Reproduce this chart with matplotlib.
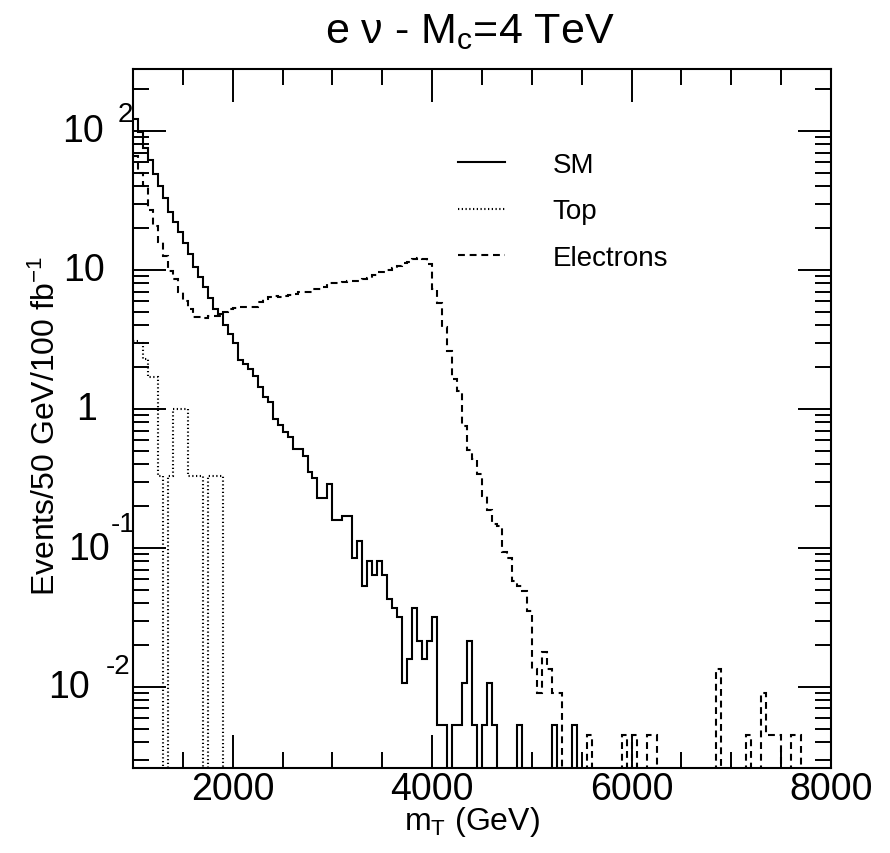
import numpy as np
import matplotlib
matplotlib.use("Agg")
import matplotlib.pyplot as plt
from matplotlib.lines import Line2D
from matplotlib.ticker import MultipleLocator, FixedLocator, LogLocator, NullFormatter

plt.rcParams['font.family'] = ['Liberation Sans', 'DejaVu Sans']
plt.rcParams['mathtext.default'] = 'regular'

# ---------------- data ----------------
bin_edges = np.arange(1000, 8001, 50)   # 140 bins of 50 GeV

sm_values = [
    122, 99, 76, 62, 49, 40, 33, 26, 22, 18.7, 15.6, 13, 10.5, 8.9, 7.5, 6.3, 5.2, 4.8,
    4.0, 3.45, 3.0, 2.26, 2.1, 1.94, 1.72, 1.43, 1.21, 1.12, 0.85, 0.77, 0.68, 0.625,
    0.515, 0.515, 0.46, 0.35, 0.317, 0.23, 0.23, 0.29,
    0.16, 0.16, 0.171, 0.171, 0.084, 0.113, 0.053, 0.080, 0.064, 0.080, 0.064, 0.043,
    0.037, 0.032, 0.0107, 0.016, 0.037, 0.0214, 0.016, 0.0214,
    0.032, 0.0053, 0.0053, 0, 0.0053, 0.0053, 0.0107, 0.0214, 0.0053, 0,
    0.0053, 0.0107, 0.0053, 0, 0, 0, 0, 0.0053, 0, 0,
    0, 0, 0, 0, 0.0053, 0, 0, 0, 0.0053, 0,
    0, 0, 0, 0, 0, 0, 0, 0, 0, 0,
] + [0] * 40

top_values = [
    3.1, 3.0, 2.3, 1.7, 1.7, 0.33, 0, 0.33, 1.0, 1.0, 1.0, 0.33, 0.33, 0.33, 0, 0.33, 0.33, 0.33, 0, 0,
] + [0] * 120

ele_values = [
    66, 50, 40, 27, 20.8, 15.8, 12.7, 9.9, 8.6, 6.9, 6.0, 5.2, 4.57, 4.57, 4.5, 4.63, 4.63, 4.7, 4.96, 5.24,
    5.3, 5.4, 5.4, 5.45, 5.45, 5.85, 6.15, 6.35, 6.5, 6.35, 6.5, 6.6, 6.7, 6.9, 6.9, 6.9, 7.3, 7.35, 7.5, 8.0,
    8.1, 8.1, 8.2, 8.3, 8.35, 8.35, 8.6, 8.7, 9.2, 9.6, 9.6, 10.0, 10.4, 10.7, 11.2, 11.5, 12.0, 12.2, 11.9, 11.0,
    7.3, 5.8, 3.87, 2.63, 1.64, 1.35, 0.75, 0.51, 0.437, 0.34, 0.238, 0.189, 0.149, 0.145, 0.093, 0.084, 0.058, 0.053, 0.049, 0.035,
    0.0135, 0.0091, 0.0178, 0.0135, 0.0091, 0.0091, 0, 0, 0, 0, 0, 0.0045, 0, 0, 0, 0, 0, 0, 0.0045, 0,
    0.0045, 0, 0, 0.0045, 0.0045, 0, 0, 0, 0, 0, 0, 0, 0, 0, 0, 0, 0, 0.0135, 0, 0,
    0, 0, 0, 0.0045, 0, 0, 0.0091, 0.0045, 0.0045, 0.0045, 0, 0, 0.0045, 0.0045, 0, 0, 0, 0, 0, 0,
]

series_labels = ['SM', 'Top', 'Electrons']
x_tick_values = [2000, 4000, 6000, 8000]
y_tick_values = [1e-2, 1e-1, 1, 10, 100]

# ---------------- figure ----------------
W, H = 890, 854
fig = plt.figure(figsize=(W / 100, H / 100), dpi=100)
L, R, T, B = 133, 831, 70, 769
ax = fig.add_axes([L / W, 1 - B / H, (R - L) / W, (B - T) / H])

YMIN, YMAX = 10 ** -2.583, 10 ** 2.446
FLOOR = 1e-7  # empty bins drawn down to the bottom (as ROOT does on log axes)


def floor(v):
    v = np.asarray(v, dtype=float)
    return np.where(v > 0, v, FLOOR)


lw = 1.5
dotted = (0, (0.6, 1.2))
dashed = (0, (3.3, 2.3))
ax.stairs(floor(sm_values), bin_edges, baseline=None, color='black', lw=lw, ls='-')
ax.stairs(floor(top_values), bin_edges, baseline=None, color='black', lw=lw, ls=dotted)
ax.stairs(floor(ele_values), bin_edges, baseline=None, color='black', lw=lw, ls=dashed)

ax.set_yscale('log')
ax.set_xlim(1000, 8000)
ax.set_ylim(YMIN, YMAX)

for s in ax.spines.values():
    s.set_linewidth(1.5)

ax.xaxis.set_major_locator(FixedLocator(x_tick_values))
ax.xaxis.set_minor_locator(MultipleLocator(500))
ax.set_xticklabels([f"{v:d}" for v in x_tick_values])
ax.yaxis.set_major_locator(FixedLocator(y_tick_values))
ax.yaxis.set_minor_locator(LogLocator(base=10, subs=np.arange(2, 10)))
ax.yaxis.set_minor_formatter(NullFormatter())
ax.set_yticklabels([''] * len(y_tick_values))

ax.tick_params(which='both', direction='in', top=True, right=True, width=1.4)
ax.tick_params(which='major', length=23.8)
ax.tick_params(which='minor', length=11.5)
ax.tick_params(axis='x', which='major', labelsize=27, pad=2)

# y tick labels in ROOT style (base and exponent)
ylab = [
    (1e2, '10', 104, 0, '2', 133, 17),
    (10, '10', 105, 0, None, 0, 0),
    (1, '1', 97, 0, None, 0, 0),
    (1e-1, '10', 110, 1, '-1', 135, 24),
    (1e-2, '10', 90, 0, '-2', 130, 21),
]
for yv, base, xr, dy, ex, exr, exdy in ylab:
    ax.annotate(base, xy=(xr, yv), xycoords=('figure pixels', 'data'),
                xytext=(0, -dy), textcoords='offset pixels',
                ha='right', va='center', fontsize=27, annotation_clip=False)
    if ex:
        ax.annotate(ex, xy=(exr, yv), xycoords=('figure pixels', 'data'),
                    xytext=(0, exdy), textcoords='offset pixels',
                    ha='right', va='center', fontsize=20, annotation_clip=False)

ax.set_xlabel('m$_T$ (GeV)', fontsize=23)
ax.xaxis.set_label_coords((472 - L) / (R - L), (B - 822) / (B - T))
ax.xaxis.label.set_verticalalignment('center')
ax.set_ylabel('Events/50 GeV/100 fb$^{-1}$', fontsize=23)
ax.yaxis.set_label_coords((46 - L) / (R - L), (B - 426) / (B - T))
ax.yaxis.label.set_verticalalignment('center')

fig.text(470 / W, 1 - 43 / H, 'e ν - M$_c$=4 TeV', ha='center', va='baseline', fontsize=31)

handles = [
    Line2D([], [], color='black', lw=lw, ls='-'),
    Line2D([], [], color='black', lw=lw, ls=dotted),
    Line2D([], [], color='black', lw=lw, ls=dashed),
]
ax.legend(handles, series_labels, loc='upper left',
          bbox_to_anchor=((458 - L) / (R - L), (B - 153) / (B - T)),
          frameon=False, fontsize=20, handlelength=1.7, handletextpad=1.7,
          labelspacing=0.73, borderaxespad=0, borderpad=0)

fig.savefig('out.png', dpi=100)
